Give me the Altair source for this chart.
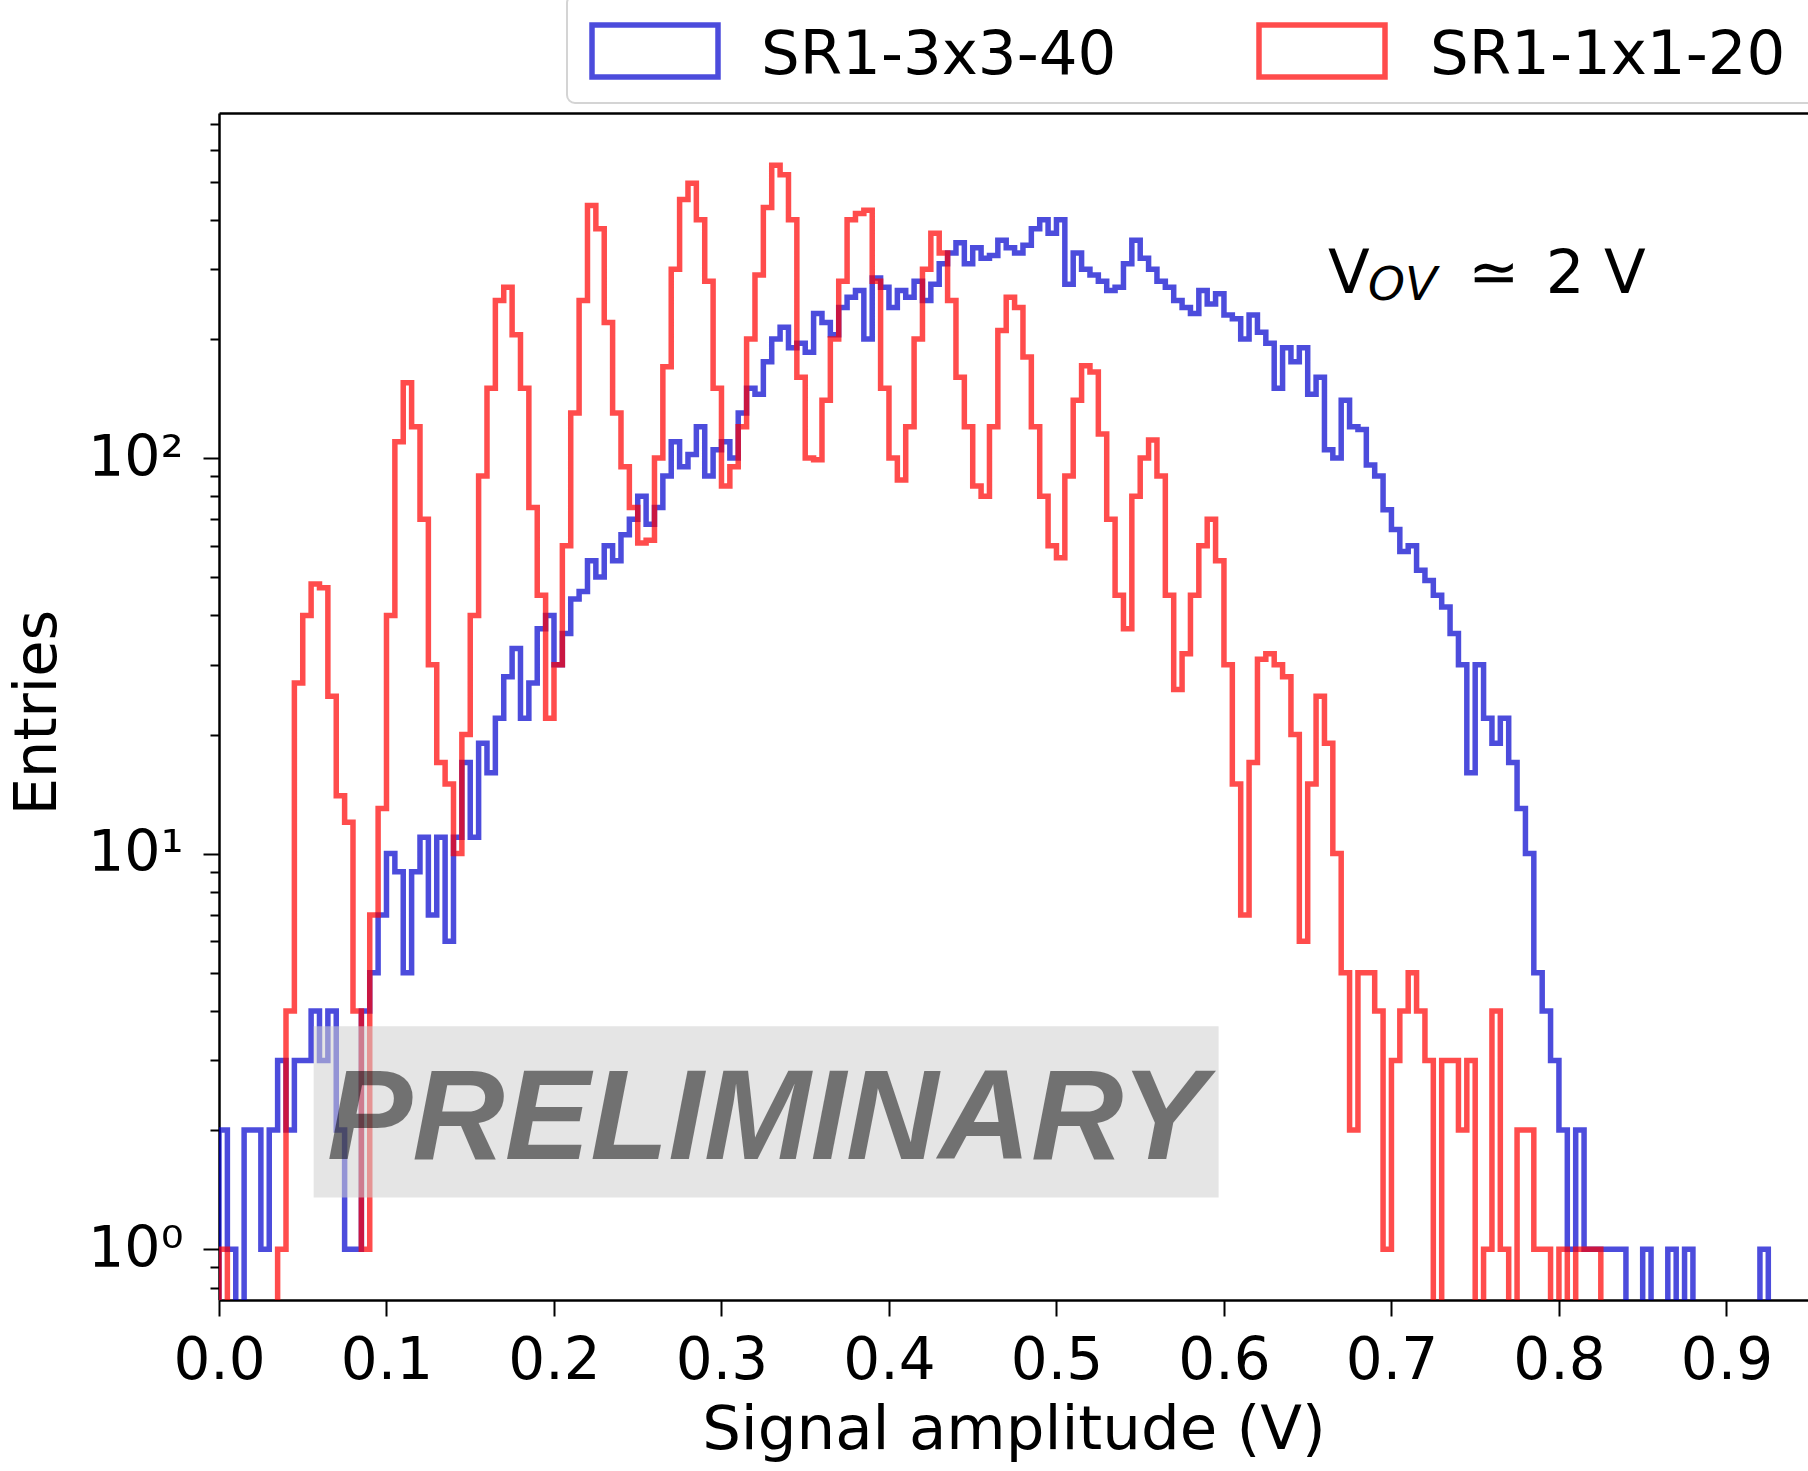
import altair as alt
import pandas as pd

FONT = "DejaVu Sans"
BIN_WIDTH = 0.005
SERIES = ["SR1-3x3-40", "SR1-1x1-20"]
COLORS = ["#0000cd", "#ff0000"]

# histogram counts per 0.005 V bin, starting at 0 V
COUNTS_3X3 = [
    2, 1, 0, 2, 2, 1, 2, 3, 2, 3,
    3, 4, 3, 4, 2, 1, 1, 4, 5, 7,
    10, 9, 5, 9, 11, 7, 11, 6, 11, 17,
    11, 19, 16, 22, 28, 33, 22, 27, 37, 40,
    30, 36, 44, 46, 55, 50, 60, 55, 64, 70,
    80, 68, 75, 90, 110, 95, 102, 120, 90, 105,
    110, 100, 130, 150, 145, 175, 200, 214, 190, 195,
    185, 232, 220, 205, 240, 255, 265, 200, 285, 270,
    240, 265, 255, 280, 250, 275, 310, 330, 350, 310,
    340, 320, 325, 355, 340, 330, 345, 380, 400, 370,
    400, 275, 330, 300, 290, 280, 265, 270, 310, 355,
    320, 300, 280, 270, 250, 240, 232, 265, 245, 260,
    230, 225, 200, 230, 208, 195, 150, 190, 175, 190,
    145, 160, 105, 100, 140, 120, 118, 96, 90, 74,
    66, 58, 60, 52, 49, 45, 42, 36, 30, 16,
    30, 22, 19, 22, 17, 13, 10, 5, 4, 3,
    2, 1, 2, 1, 1, 1, 1, 1, 0, 0,
    1, 0, 0, 1, 0, 1, 0, 0, 0, 0,
    0, 0, 0, 0, 1, 0, 0, 0, 0, 0,
]
COUNTS_1X1 = [
    1, 0, 0, 0, 0, 0, 0, 1, 4, 27,
    40, 48, 47, 25, 14, 12, 4, 1, 7, 13,
    40, 110, 155, 120, 70, 30, 17, 15, 10, 20,
    40, 90, 150, 250, 270, 205, 150, 75, 45, 22,
    30, 60, 130, 250, 435, 380, 220, 130, 95, 75,
    61, 62, 100, 170, 300, 450, 495, 400, 280, 150,
    85, 95, 120, 200, 290, 430, 550, 520, 400, 160,
    100, 99, 140, 200, 280, 400, 415, 423, 280, 150,
    100, 88, 120, 200, 300, 370, 330, 250, 160, 120,
    85, 80, 120, 210, 255, 240, 180, 120, 80, 60,
    56, 90, 140, 171, 165, 115, 70, 45, 37, 80,
    100, 111, 90, 45, 26, 32, 45, 60, 70, 55,
    30, 15, 7, 17, 31, 32, 30, 28, 20, 6,
    15, 25, 19, 10, 5, 2, 5, 5, 4, 1,
    3, 4, 5, 4, 3, 0, 3, 3, 2, 3,
    0, 1, 4, 1, 0, 2, 2, 1, 1, 0,
    1, 0, 1, 1, 1, 0, 0, 0, 0, 0,
    0, 0, 0, 0, 0, 0, 0, 0, 0, 0,
    0, 0, 0, 0, 0, 0, 0, 0, 0, 0,
]

X_TICKS = [0.0, 0.1, 0.2, 0.3, 0.4, 0.5, 0.6, 0.7, 0.8, 0.9]
Y_MAJOR = [1, 10, 100]
Y_MINOR = [0.8, 0.9, 2, 3, 4, 5, 6, 7, 8, 9, 20, 30, 40, 50, 60, 70, 80, 90,
           200, 300, 400, 500, 600, 700]
X_DOMAIN = [0.0, 0.9487]
Y_DOMAIN = [0.744, 745]
FLOOR = 0.3  # empty bins are drawn down to here (below the axis, clipped)

X_TITLE = "Signal amplitude (V)"
Y_TITLE = "Entries"
WATERMARK = "PRELIMINARY"

W, H = 1589, 1187


def step_frame(counts):
    rows = [{"x": 0.0, "y": FLOOR, "order": 0}]
    for i, c in enumerate(counts):
        rows.append({"x": round(i * BIN_WIDTH, 6), "y": c if c > 0 else FLOOR, "order": i + 1})
    n = len(counts)
    last = counts[-1] if counts[-1] > 0 else FLOOR
    rows.append({"x": round(n * BIN_WIDTH, 6), "y": last, "order": n + 1})
    rows.append({"x": round(n * BIN_WIDTH, 6), "y": FLOOR, "order": n + 2})
    return pd.DataFrame(rows)


xs = alt.Scale(domain=X_DOMAIN, nice=False, zero=False)
ys = alt.Scale(type="log", domain=Y_DOMAIN, nice=False)

x_axis = alt.Axis(
    values=X_TICKS, format=".1f", labelFont=FONT, labelFontSize=58, labelColor="black",
    labelPadding=16, labelFlush=False, labelOverlap=False,
    tickSize=16, tickWidth=2, tickColor="black",
    domainColor="black", domainWidth=2.5, grid=False,
    title=X_TITLE, titleFont=FONT, titleFontSize=61, titleFontWeight="normal",
    titleColor="black", titleY=148, titleBaseline="alphabetic",
)
y_axis = alt.Axis(
    values=Y_MAJOR + Y_MINOR,
    labelExpr="datum.value == 1 ? '10⁰' : datum.value == 10 ? '10¹' : datum.value == 100 ? '10²' : ''",
    labelFont=FONT, labelFontSize=57, labelColor="black", labelPadding=20, labelOverlap=False,
    tickSize={"condition": {"test": "indexof([1, 10, 100], datum.value) >= 0", "value": 16}, "value": 9},
    tickWidth=2, tickColor="black", domainColor="black", domainWidth=2.5, grid=False,
    title=Y_TITLE, titleFont=FONT, titleFontSize=59, titleFontWeight="normal", titleColor="black",
    titleX=-164, titleY=599, titleAngle=-90, titleBaseline="alphabetic", titleAlign="center",
)
top_axis = alt.Axis(orient="top", labels=False, ticks=False, domain=True, domainColor="black",
                    domainWidth=2.5, title=None, grid=False)


def line_layer(counts, color, with_axes):
    return alt.Chart(step_frame(counts)).mark_line(
        interpolate="step-after", clip=True, color=color, opacity=0.7, strokeWidth=5.5
    ).encode(
        x=alt.X("x:Q", scale=xs, axis=x_axis if with_axes else None),
        y=alt.Y("y:Q", scale=ys, axis=y_axis if with_axes else None),
        order=alt.Order("order:Q"),
    )


blue = line_layer(COUNTS_3X3, COLORS[0], True)
red = line_layer(COUNTS_1X1, COLORS[1], False)

box = alt.Chart(pd.DataFrame({"x0": [0.0565], "x1": [0.5968], "y0": [1.351], "y1": [3.66]})).mark_rect(
    color="#d0d0d0", opacity=0.55
).encode(
    x=alt.X("x0:Q", scale=xs, axis=top_axis), x2="x1:Q",
    y=alt.Y("y0:Q", scale=ys, axis=None), y2="y1:Q",
)
prelim = alt.Chart(pd.DataFrame({"x": [0.327], "y": [1.688], "t": [WATERMARK]})).mark_text(
    font="Liberation Sans, Arial, sans-serif", fontSize=128, fontWeight="bold", fontStyle="italic",
    color="black", opacity=0.5, align="center", baseline="alphabetic",
).encode(x=alt.X("x:Q", scale=xs, axis=None), y=alt.Y("y:Q", scale=ys, axis=None), text="t:N")


def annot(x, y, t, size, style="normal"):
    return alt.Chart(pd.DataFrame({"x": [x], "y": [y], "t": [t]})).mark_text(
        font=FONT, fontSize=size, fontStyle=style, color="black", align="left", baseline="alphabetic"
    ).encode(x=alt.X("x:Q", scale=xs, axis=None), y=alt.Y("y:Q", scale=ys, axis=None), text="t:N")


vov = [
    annot(0.6621, 262, "V", 61),
    annot(0.686, 250.5, "OV", 47, "italic"),
    annot(0.7457, 262, "≃", 61),
    annot(0.7922, 262, "2 V", 61),
]

one = pd.DataFrame({"k": [0]})
legend_box = alt.Chart(one).mark_rect(
    fill="white", fillOpacity=0.8, stroke="#d4d4d4", strokeWidth=2, cornerRadius=8
).encode(x=alt.value(348), x2=alt.value(1625), y=alt.value(-118), y2=alt.value(-10))

LEG_SWATCH_X = [373, 1040]
LEG_LABEL_X = [542, 1211]
legend_layers = [legend_box]
for name, color, sx, lx in zip(SERIES, COLORS, LEG_SWATCH_X, LEG_LABEL_X):
    legend_layers.append(
        alt.Chart(one).mark_rect(fillOpacity=0, stroke=color, strokeOpacity=0.7, strokeWidth=5.5).encode(
            x=alt.value(sx), x2=alt.value(sx + 126), y=alt.value(-88), y2=alt.value(-36)
        )
    )
    legend_layers.append(
        alt.Chart(pd.DataFrame({"label": [name]})).mark_text(
            font=FONT, fontSize=61, color="black", align="left", baseline="alphabetic"
        ).encode(x=alt.value(lx), y=alt.value(-39), text="label:N")
    )

chart = alt.layer(blue, red, box, prelim, *vov, *legend_layers).resolve_axis(
    x="independent", y="independent"
).properties(
    width=W, height=H,
    padding={"left": 219, "top": 113, "right": 0, "bottom": 171},
    autosize=alt.AutoSizeParams(type="none"),
).configure_view(stroke=None).configure(background="white")

chart.save("out.html", embed_options={"renderer": "svg", "actions": False})
